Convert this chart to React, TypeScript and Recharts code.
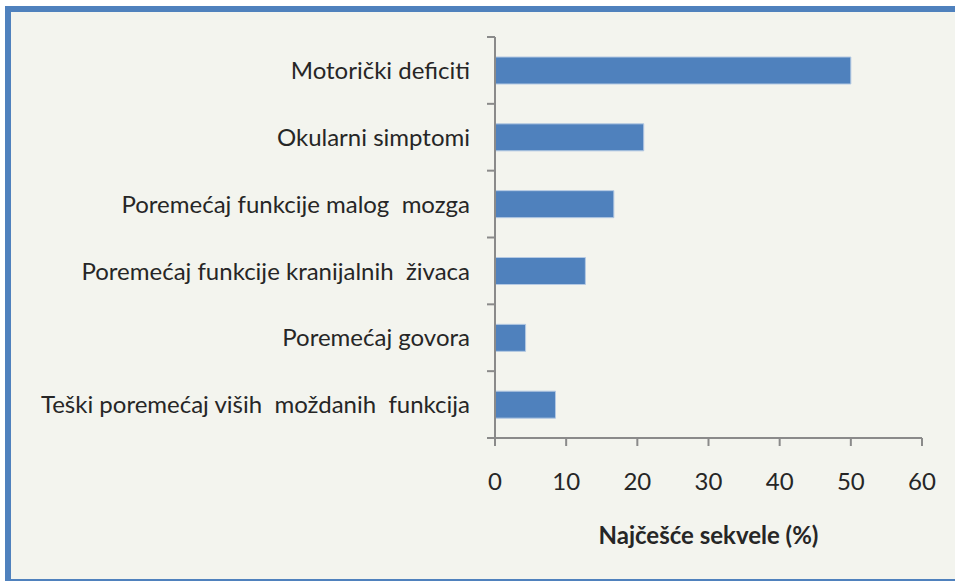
import React from "react";
import { BarChart, Bar, XAxis, YAxis } from "recharts";

const categories = [
  "Motorički deficiti",
  "Okularni simptomi",
  "Poremećaj funkcije malog  mozga",
  "Poremećaj funkcije kranijalnih  živaca",
  "Poremećaj govora",
  "Teški poremećaj viših  moždanih  funkcija",
];
const values = [50, 20.9, 16.7, 12.7, 4.3, 8.5];
const xTicks = [0, 10, 20, 30, 40, 50, 60];

const W = 955;
const H = 581;
const MARGIN = { top: 37, right: 33, left: 0, bottom: 0 };
const Y_AXIS_W = 495;
const X_AXIS_H = 143;
const TICK_SIZE = 8;
const TICK_MARGIN = 17;
const AXIS_COLOR = "#8a8a8a";
const TEXT_COLOR = "#262626";
const FONT = "Lato, 'Open Sans', sans-serif";

const rows = categories.map((name, i) => ({ name, value: values[i] }));
const halfBand = (H - MARGIN.top - MARGIN.bottom - X_AXIS_H) / categories.length / 2;

// category labels centred on the band, tick marks on the band edges
function CatTick(props: any) {
  const { x, y, payload, index } = props;
  const axisX = x + TICK_SIZE + TICK_MARGIN;
  const last = index === categories.length - 1;
  return (
    <g>
      <line x1={axisX - TICK_SIZE} x2={axisX} y1={y - halfBand} y2={y - halfBand}
        stroke={AXIS_COLOR} strokeWidth={2} />
      {last && (
        <line x1={axisX - TICK_SIZE} x2={axisX} y1={y + halfBand} y2={y + halfBand}
          stroke={AXIS_COLOR} strokeWidth={2} />
      )}
      <text x={x} y={y} dy="0.36em" textAnchor="end" fill={TEXT_COLOR}
        fontSize={24} fontFamily={FONT} style={{ whiteSpace: "pre" }}>
        {payload.value}
      </text>
    </g>
  );
}

export default function App() {
  return (
    <div style={{ position: "absolute", top: 0, left: 0, width: W, height: H, overflow: "hidden", background: "#fff" }}>
      <div style={{
        position: "absolute", left: 5, top: 6, width: 1000, height: 579,
        boxSizing: "border-box", border: "6px solid #4F81BD", background: "#F3F4EE",
      }} />
      <div style={{ position: "absolute", top: 0, left: 0 }}>
        <BarChart width={W} height={H} data={rows} layout="vertical" margin={MARGIN}>
          <XAxis
            type="number" domain={[0, 60]} ticks={xTicks} height={X_AXIS_H}
            tickSize={TICK_SIZE} tickMargin={27}
            axisLine={{ stroke: AXIS_COLOR, strokeWidth: 2 }}
            tickLine={{ stroke: AXIS_COLOR, strokeWidth: 2 }}
            tick={{ fill: TEXT_COLOR, fontSize: 24, fontFamily: FONT }}
            label={{
              value: "Najčešće sekvele (%)", position: "insideBottom", offset: 37,
              fill: TEXT_COLOR, fontSize: 24, fontWeight: 700, fontFamily: FONT,
            }}
          />
          <YAxis
            type="category" dataKey="name" width={Y_AXIS_W}
            tickSize={TICK_SIZE} tickMargin={TICK_MARGIN} interval={0}
            axisLine={{ stroke: AXIS_COLOR, strokeWidth: 2 }}
            tickLine={false}
            tick={<CatTick />}
          />
          <Bar dataKey="value" fill="#4F81BD" stroke="#b4c9e3" strokeWidth={1}
            barSize={27} isAnimationActive={false} />
        </BarChart>
      </div>
    </div>
  );
}
